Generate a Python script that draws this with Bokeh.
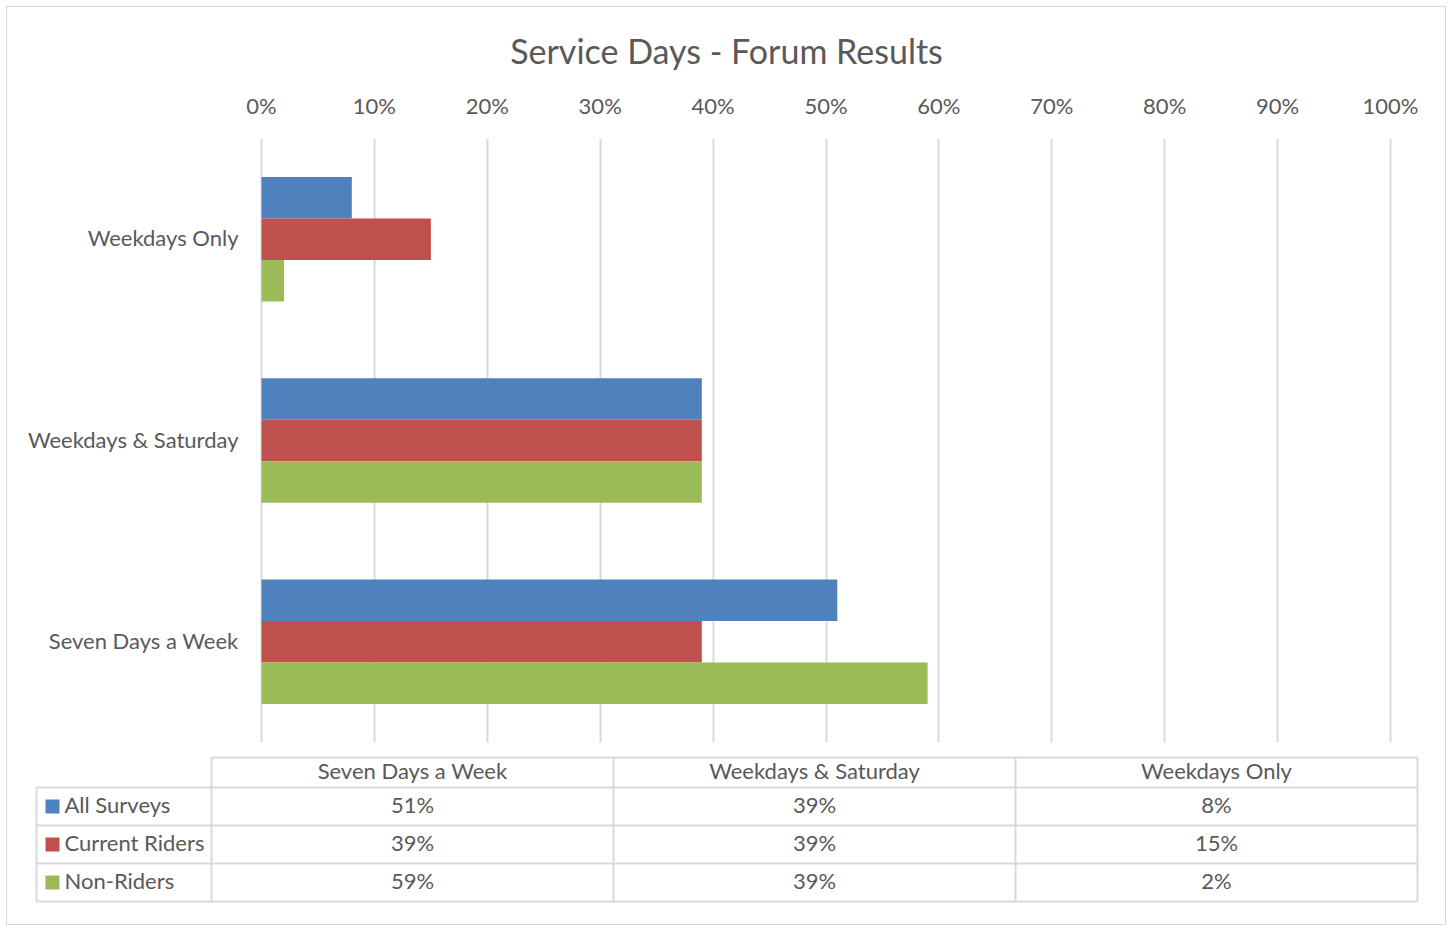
from bokeh.plotting import figure
from bokeh.models import (FactorRange, Range1d, FixedTicker, NumeralTickFormatter,
                          ColumnDataSource)
from bokeh.transform import dodge
from bokeh.layouts import column
from bokeh.embed import file_html
from bokeh.resources import INLINE
from bokeh.core.properties import value

# ---------------- data ----------------
chart_title = "Service Days - Forum Results"
categories = ["Seven Days a Week", "Weekdays & Saturday", "Weekdays Only"]
series = ["All Surveys", "Current Riders", "Non-Riders"]
all_surveys = [0.51, 0.39, 0.08]
current_riders = [0.39, 0.39, 0.15]
non_riders = [0.59, 0.39, 0.02]
x_ticks = [0.0, 0.1, 0.2, 0.3, 0.4, 0.5, 0.6, 0.7, 0.8, 0.9, 1.0]

# ---------------- style / layout ----------------
colors = ["#4F81BD", "#C0504D", "#9BBB59"]
FONT = "Lato"
TEXT = "#595959"
GRID = "#D9D9D9"
FS = "22px"
W = 1438
H0 = 80
H1 = 663
H2 = 174
FL, FR = 12, 1420             # common frame edges (px inside the figures)
ZERO_PX, UNIT_PX = 254, 1129  # where 0% lies and how wide 100% is
LABEL_GAP = 23
TEXT_DY = -2

common = dict(width=W, output_backend="svg", toolbar_location=None,
              min_border_left=FL, min_border_right=W - FR)

# ---------------- title ----------------
tt = figure(height=H0, x_range=Range1d(FL, FR), y_range=Range1d(H0, 0),
            x_axis_type=None, y_axis_type=None,
            min_border_top=0, min_border_bottom=0, **common)
tt.grid.visible = False
tt.outline_line_color = None
tt.text(x=[W / 2], y=[43], text=[chart_title], text_align="center", text_baseline="middle",
        text_font=value(FONT), text_font_size="34px", text_color=TEXT)

# ---------------- chart ----------------
x0 = (FL - ZERO_PX) / UNIT_PX
x1 = 1 + (FR - ZERO_PX - UNIT_PX) / UNIT_PX
p = figure(height=H1,
           y_range=FactorRange(*categories),
           x_range=Range1d(x0, x1),
           x_axis_location="above", y_axis_location=None,
           min_border_top=51, min_border_bottom=8, **common)

src = ColumnDataSource(dict(cat=categories, s0=all_surveys, s1=current_riders, s2=non_riders))
bar_h = 0.206
offsets = [bar_h, 0.0, -bar_h]
for i, col in enumerate(["s0", "s1", "s2"]):
    p.hbar(y=dodge("cat", offsets[i], range=p.y_range), left=0, right=col,
           height=bar_h, source=src, fill_color=colors[i], line_color=None)

# category labels (left of the 0% line)
p.text(x=-LABEL_GAP / UNIT_PX, y=dodge("cat", 0.006, range=p.y_range), text="cat", source=src,
       text_align="right", text_baseline="middle",
       text_font=value(FONT), text_font_size=FS, text_color=TEXT)

p.xaxis.ticker = FixedTicker(ticks=x_ticks)
p.xaxis.formatter = NumeralTickFormatter(format="0%")
p.xaxis.axis_line_color = None
p.xaxis.major_tick_line_color = None
p.xaxis.minor_tick_line_color = None
p.xaxis.major_tick_out = 0
p.xaxis.major_tick_in = 0
p.xaxis.major_label_text_font = FONT
p.xaxis.major_label_text_font_size = FS
p.xaxis.major_label_text_color = TEXT
p.xaxis.major_label_standoff = 20
p.xgrid.ticker = FixedTicker(ticks=x_ticks)
p.xgrid.grid_line_color = GRID
p.xgrid.grid_line_width = 2
p.ygrid.grid_line_color = None
p.outline_line_color = None

# ---------------- data table ----------------
t = figure(height=H2, x_range=Range1d(FL, FR), y_range=Range1d(H2, 0),
           x_axis_type=None, y_axis_type=None,
           min_border_top=0, min_border_bottom=0, **common)
t.grid.visible = False
t.outline_line_color = None

left, label_w, col_w = 29, 175, 402
top, header_h, row_h = 7, 30, 38
ncol = len(categories)
nrow = len(series)
right = left + label_w + ncol * col_w
bottom = top + header_h + nrow * row_h

# horizontal lines
hx0 = [left + label_w] + [left] * (nrow + 1)
hy = [top] + [top + header_h + r * row_h for r in range(nrow + 1)]
t.segment(x0=hx0, x1=[right] * len(hy), y0=hy, y1=hy, line_color=GRID, line_width=2)
# vertical lines
vx = [left] + [left + label_w + c * col_w for c in range(ncol + 1)]
vy0 = [top + header_h] + [top] * (ncol + 1)
t.segment(x0=vx, x1=vx, y0=vy0, y1=[bottom] * len(vx), line_color=GRID, line_width=2)

# header
hx = [left + label_w + (c + 0.5) * col_w for c in range(ncol)]
t.text(x=hx, y=[top + header_h / 2 + TEXT_DY] * ncol, text=categories,
       text_align="center", text_baseline="middle",
       text_font=value(FONT), text_font_size=FS, text_color=TEXT)

# rows
values = [all_surveys, current_riders, non_riders]
for r in range(nrow):
    yc = top + header_h + (r + 0.5) * row_h
    t.rect(x=[left + 16], y=[yc], width=14, height=14, fill_color=colors[r], line_color=None)
    t.text(x=[left + 28], y=[yc + TEXT_DY], text=[series[r]], text_align="left",
           text_baseline="middle",
           text_font=value(FONT), text_font_size=FS, text_color=TEXT)
    t.text(x=hx, y=[yc + TEXT_DY] * ncol, text=[f"{round(v * 100)}%" for v in values[r]],
           text_align="center", text_baseline="middle",
           text_font=value(FONT), text_font_size=FS, text_color=TEXT)

layout = column(tt, p, t, spacing=0,
                styles={"border": "1px solid #D9D9D9", "margin": "6px 0 0 6px"})

open("out.html", "w").write(file_html(layout, INLINE))
